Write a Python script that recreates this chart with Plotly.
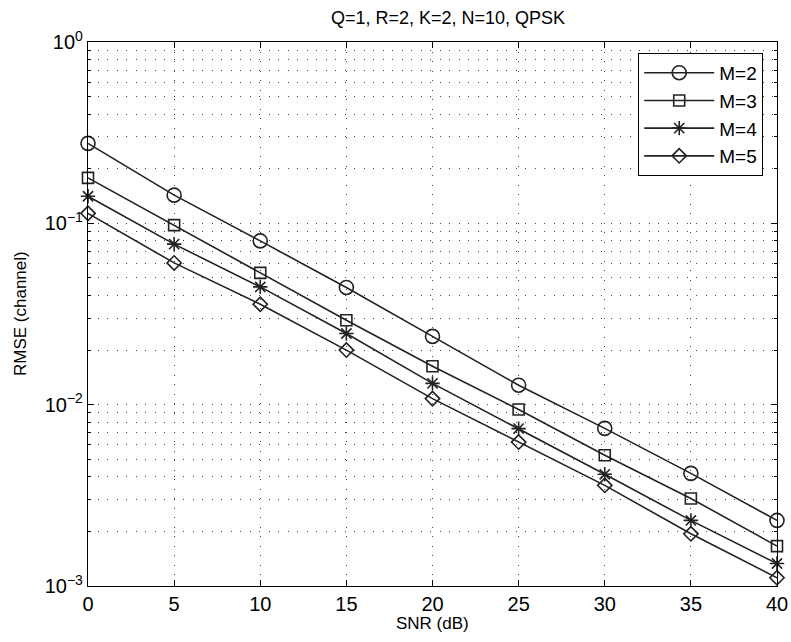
import plotly.graph_objects as go

snr = [0, 5, 10, 15, 20, 25, 30, 35, 40]
rmse_m2 = [0.276, 0.143, 0.080, 0.0443, 0.0238, 0.0128, 0.0074, 0.00418, 0.0023]
rmse_m3 = [0.178, 0.0977, 0.0533, 0.0292, 0.0163, 0.0094, 0.00526, 0.00304, 0.00166]
rmse_m4 = [0.141, 0.0768, 0.0446, 0.0247, 0.0131, 0.00738, 0.00413, 0.0023, 0.00133]
rmse_m5 = [0.1135, 0.0605, 0.0358, 0.020, 0.0108, 0.00622, 0.00359, 0.00194, 0.00111]
labels = ["M=2", "M=3", "M=4", "M=5"]
symbols = ["circle-open", "square-open", "asterisk-open", "diamond-open"]
sizes = [14, 11, 12, 11]
series = [rmse_m2, rmse_m3, rmse_m4, rmse_m5]

y_major = [1e-3, 1e-2, 1e-1, 1]
y_major_text = ["10<sup>−3</sup>", "10<sup>−2</sup>", "10<sup>−1</sup>", "10<sup>0</sup>"]
y_minor = [m * 10 ** e for e in (-3, -2, -1) for m in range(2, 10)]
x_ticks = [0, 5, 10, 15, 20, 25, 30, 35, 40]

line_color = "#222222"
fig = go.Figure()
for name, ys, sym, sz in zip(labels, series, symbols, sizes):
    fig.add_trace(go.Scatter(
        x=snr, y=ys, name=name, mode="lines+markers",
        line=dict(color=line_color, width=1.6),
        marker=dict(symbol=sym, size=sz, color=line_color,
                    line=dict(color=line_color, width=1.6)),
        cliponaxis=False,
    ))

grid_dash = "1px,8.5px"
grid_col = "#444444"
plot_w, plot_h = 689, 544
fig.update_layout(
    width=791, height=642,
    paper_bgcolor="white", plot_bgcolor="white",
    margin=dict(l=88, r=14, t=42, b=56),
    font=dict(family="Liberation Sans, Arial, sans-serif", color="black", size=17),
    title=dict(text="Q=1, R=2, K=2, N=10, QPSK", x=448 / 791, xanchor="center",
               y=1 - 18 / 642, yanchor="middle", font=dict(size=18)),
    showlegend=True,
    legend=dict(x=0.98, y=0.98, xanchor="right", yanchor="top",
                bgcolor="white", bordercolor="black", borderwidth=1,
                font=dict(size=19), itemwidth=70, tracegroupgap=0),
    xaxis=dict(
        range=[0, 40], tickmode="array", tickvals=x_ticks, automargin=False,
        ticks="inside", ticklen=6, tickcolor="black",
        showline=True, linecolor="black", linewidth=1.3, mirror="ticks",
        showgrid=True, gridcolor=grid_col, griddash=grid_dash, gridwidth=1,
        zeroline=False, tickfont=dict(size=20),
    ),
    yaxis=dict(
        type="log", range=[-3, 0], tickmode="array", automargin=False,
        tickvals=y_major, ticktext=y_major_text,
        ticks="inside", ticklen=6, tickcolor="black",
        showline=True, linecolor="black", linewidth=1.3, mirror="ticks",
        showgrid=True, gridcolor=grid_col, griddash=grid_dash, gridwidth=1,
        zeroline=False, tickfont=dict(size=20),
        minor=dict(tickmode="array", tickvals=y_minor, ticks="inside", ticklen=3,
                   tickcolor="black", showgrid=True, gridcolor=grid_col,
                   griddash=grid_dash, gridwidth=1),
    ),
    annotations=[
        dict(text="SNR (dB)", xref="paper", yref="paper", x=0.5, y=-(623 - 586) / plot_h,
             xanchor="center", yanchor="middle", showarrow=False, font=dict(size=17)),
        dict(text="RMSE (channel)", xref="paper", yref="paper", x=(20 - 88) / plot_w, y=0.5,
             xanchor="center", yanchor="middle", textangle=-90, showarrow=False,
             font=dict(size=17)),
    ],
)

fig.write_html("out.html",
               config={"displayModeBar": False},
               post_script="document.body.style.margin='0';document.body.style.overflow='hidden';")
